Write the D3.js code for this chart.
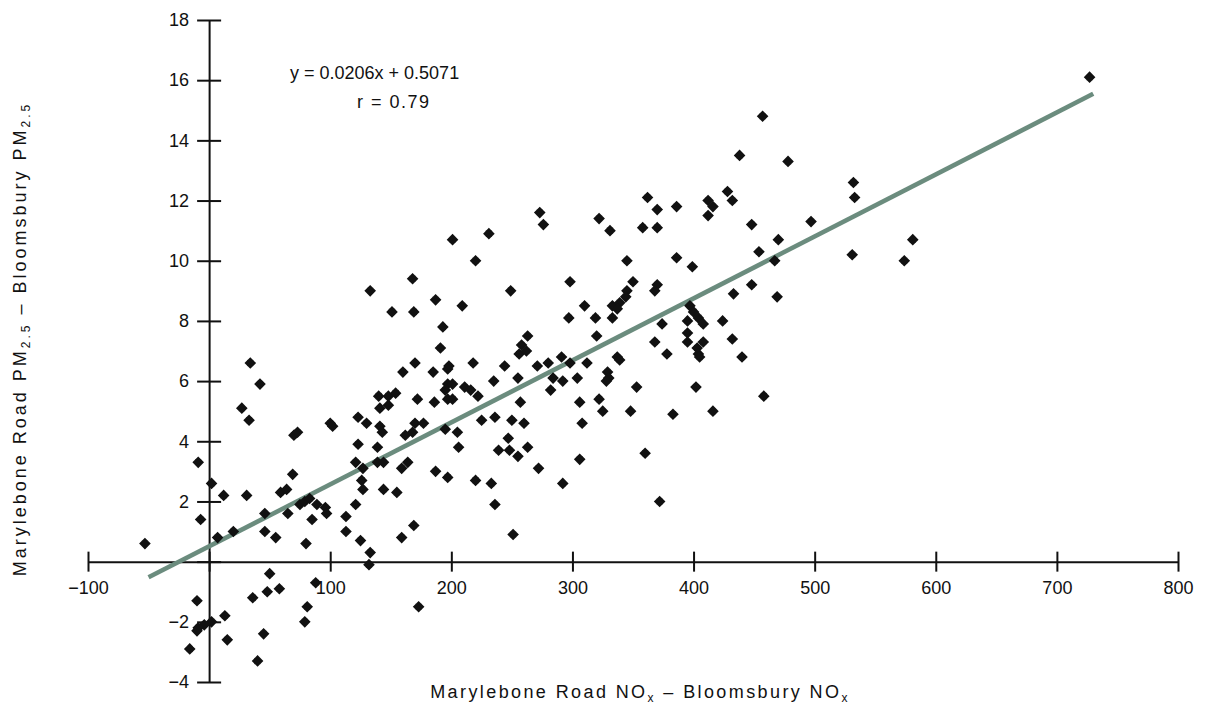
<!DOCTYPE html>
<html>
<head>
<meta charset="utf-8">
<script src="https://cdn.jsdelivr.net/npm/d3@7"></script>
<style>
  html, body { margin: 0; padding: 0; background: #fff; }
  svg { display: block; }
  text { font-family: "Liberation Sans", Arial, sans-serif; fill: #111; }
</style>
</head>
<body>
<svg id="chart" width="1207" height="709"></svg>
<script>
// Kerbside increment: Marylebone Road minus Bloomsbury background
const noxDiff = [
  -53, -9, 2, 12, -7, 31, 7, 20, 46, 46, 55, 59, 64, 69, 65, 75, 79, 83, 89, 96,
  97, 85, 80, 113, 113, 121, 125, 133, 132, 123, 139, 121, 127, 139, 144, 126, 127, 144, 155, 159,
  164, 159, 169, 50, 48, 58, 36, 88, -10, 13, 2, -4, -10, -9, 15, -16, 45, 40, 81, 79,
  173, 34, 42, 27, 33, 70, 73, 100, 102, 123, 130, 133, 151, 169, 168, 160, 170, 140, 148, 154,
  141, 148, 172, 141, 143, 162, 170, 177, 168, 191, 263, 258, 256, 262, 185, 198, 197, 218, 244, 271,
  280, 291, 298, 312, 320, 337, 339, 329, 330, 328, 368, 378, 395, 395, 403, 404, 408, 405, 402, 235,
  255, 284, 292, 282, 304, 353, 197, 201, 195, 211, 216, 222, 186, 197, 201, 257, 306, 322, 325, 348,
  383, 195, 205, 225, 236, 250, 260, 206, 247, 239, 248, 255, 263, 308, 306, 360, 187, 197, 220, 233,
  272, 292, 236, 372, 251, 201, 231, 220, 273, 276, 322, 331, 362, 370, 386, 358, 370, 345, 386, 399,
  187, 209, 193, 249, 298, 310, 297, 319, 333, 333, 339, 345, 350, 337, 344, 370, 368, 374, 397, 400,
  404, 408, 395, 457, 438, 478, 428, 432, 412, 416, 412, 448, 470, 454, 467, 532, 533, 497, 531, 581,
  574, 727, 448, 433, 469, 424, 432, 440, 458, 416
];
const pmDiff = [
  0.6, 3.3, 2.6, 2.2, 1.4, 2.2, 0.8, 1.0, 1.6, 1.0, 0.8, 2.3, 2.4, 2.9, 1.6, 1.9, 2.0, 2.1, 1.9, 1.8,
  1.6, 1.4, 0.6, 1.5, 1.0, 1.9, 0.7, 0.3, -0.1, 3.9, 3.8, 3.3, 3.1, 3.3, 3.3, 2.7, 2.4, 2.4, 2.3, 3.1,
  3.3, 0.8, 1.2, -0.4, -1.0, -0.9, -1.2, -0.7, -1.3, -1.8, -2.0, -2.1, -2.3, -2.2, -2.6, -2.9, -2.4, -3.3, -1.5, -2.0,
  -1.5, 6.6, 5.9, 5.1, 4.7, 4.2, 4.3, 4.6, 4.5, 4.8, 4.6, 9.0, 8.3, 8.3, 9.4, 6.3, 6.6, 5.5, 5.5, 5.6,
  5.1, 5.2, 5.4, 4.5, 4.3, 4.2, 4.6, 4.6, 4.3, 7.1, 7.5, 7.2, 6.9, 7.0, 6.3, 6.5, 6.4, 6.6, 6.5, 6.5,
  6.6, 6.8, 6.6, 6.6, 7.5, 6.8, 6.7, 6.3, 6.1, 6.0, 7.3, 6.9, 7.6, 7.3, 7.1, 6.9, 7.3, 6.8, 5.8, 6.0,
  6.1, 6.1, 6.0, 5.7, 6.1, 5.8, 5.9, 5.9, 5.7, 5.8, 5.7, 5.5, 5.3, 5.4, 5.4, 5.3, 5.3, 5.4, 5.0, 5.0,
  4.9, 4.4, 4.3, 4.7, 4.8, 4.7, 4.6, 3.8, 4.1, 3.7, 3.7, 3.5, 3.8, 4.6, 3.4, 3.6, 3.0, 2.8, 2.7, 2.6,
  3.1, 2.6, 1.9, 2.0, 0.9, 10.7, 10.9, 10.0, 11.6, 11.2, 11.4, 11.0, 12.1, 11.7, 11.8, 11.1, 11.1, 10.0, 10.1, 9.8,
  8.7, 8.5, 7.8, 9.0, 9.3, 8.5, 8.1, 8.1, 8.1, 8.5, 8.6, 9.0, 9.3, 8.4, 8.8, 9.2, 9.0, 7.9, 8.5, 8.3,
  8.1, 7.9, 8.0, 14.8, 13.5, 13.3, 12.3, 12.0, 12.0, 11.8, 11.5, 11.2, 10.7, 10.3, 10.0, 12.6, 12.1, 11.3, 10.2, 10.7,
  10.0, 16.1, 9.2, 8.9, 8.8, 8.0, 7.4, 6.8, 5.5, 5.0
];

// Axis ticks
const xTicks = [-100, 0, 100, 200, 300, 400, 500, 600, 700, 800];
const yTicks = [-4, -2, 0, 2, 4, 6, 8, 10, 12, 14, 16, 18];

// Least-squares fit and its drawn extent
const slope = 0.0206;
const intercept = 0.5071;
const corr = 0.79;
const fitRange = [-50, 730];

const svg = d3.select("#chart");

const x = d3.scaleLinear().domain([-100, 800]).range([88, 1178]);
const y = d3.scaleLinear().domain([-4, 18]).range([682, 20]);

const labelFmt = d => d === 0 ? "" : d3.format("d")(d);
const tickFont = "'Liberation Sans', Arial, sans-serif";

// x axis crosses at y = 0, ticks straddle the line
const gx = svg.append("g")
  .attr("transform", `translate(0,${y(0)})`)
  .call(d3.axisBottom(x).tickValues(xTicks).tickSizeInner(10).tickSizeOuter(0).tickFormat(labelFmt));
gx.select(".domain").attr("stroke", "#111").attr("stroke-width", 2);
gx.selectAll(".tick line").attr("y1", -10).attr("y2", 10).attr("stroke", "#111").attr("stroke-width", 2);
gx.selectAll(".tick text").attr("y", 20).attr("font-size", 18).attr("fill", "#111")
  .style("font-family", tickFont);

// y axis crosses at x = 0
const gy = svg.append("g")
  .attr("transform", `translate(${x(0)},0)`)
  .call(d3.axisLeft(y).tickValues(yTicks).tickSizeInner(12).tickSizeOuter(0).tickFormat(labelFmt));
gy.select(".domain").attr("stroke", "#111").attr("stroke-width", 2);
gy.selectAll(".tick line").attr("x1", -12).attr("x2", 12).attr("stroke", "#111").attr("stroke-width", 2);
gy.selectAll(".tick text").attr("x", -20).attr("font-size", 18).attr("fill", "#111")
  .style("font-family", tickFont);

// Regression line
svg.append("line")
  .attr("x1", x(fitRange[0])).attr("y1", y(slope * fitRange[0] + intercept))
  .attr("x2", x(fitRange[1])).attr("y2", y(slope * fitRange[1] + intercept))
  .attr("stroke", "#6b8c7e").attr("stroke-width", 4.5).attr("stroke-linecap", "butt");

// Marker: a rounded four-point diamond
const blob = {
  draw(ctx, size) {
    const r = Math.sqrt(size) / 2;
    const d = r * 1.3;
    ctx.moveTo(0, -d); ctx.lineTo(d, 0); ctx.lineTo(0, d); ctx.lineTo(-d, 0); ctx.closePath();
    ctx.moveTo(r * 0.9, 0);
    ctx.arc(0, 0, r * 0.9, 0, Math.PI * 2);
  }
};
const pts = noxDiff.map((v, i) => ({ nox: v, pm: pmDiff[i] }));
svg.append("g").selectAll("path").data(pts).join("path")
  .attr("transform", d => `translate(${x(d.nox)},${y(d.pm)})`)
  .attr("d", d3.symbol().type(blob).size(80))
  .attr("fill", "#111");

// Fit annotation
svg.append("text").attr("x", 290).attr("y", 79).attr("font-size", 18)
  .text(`y = ${slope}x + ${intercept}`);
svg.append("text").attr("x", 357).attr("y", 108).attr("font-size", 18).attr("letter-spacing", 1.5)
  .text(`r = ${corr}`);

// Axis titles with subscripts
const xt = svg.append("text").attr("x", 640).attr("y", 698).attr("text-anchor", "middle")
  .attr("font-size", 18).attr("letter-spacing", 2.4);
xt.append("tspan").text("Marylebone Road NO");
xt.append("tspan").attr("font-size", 12).attr("dy", 4).text("x");
xt.append("tspan").attr("dy", -4).text(" \u2013 Bloomsbury NO");
xt.append("tspan").attr("font-size", 12).attr("dy", 4).text("x");

const yt = svg.append("text").attr("transform", "translate(26,339) rotate(-90)")
  .attr("text-anchor", "middle").attr("font-size", 18).attr("letter-spacing", 3);
yt.append("tspan").text("Marylebone Road PM");
yt.append("tspan").attr("font-size", 12).attr("dy", 4).text("2.5");
yt.append("tspan").attr("dy", -4).text(" \u2013 Bloomsbury PM");
yt.append("tspan").attr("font-size", 12).attr("dy", 4).text("2.5");
</script>
</body>
</html>
